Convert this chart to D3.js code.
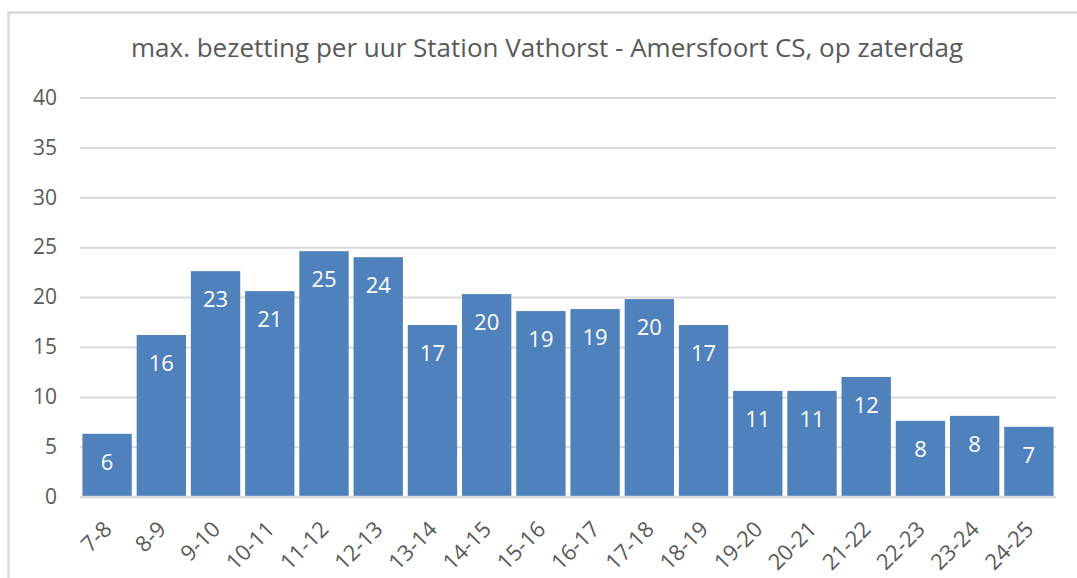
<!DOCTYPE html>
<html>
<head>
<meta charset="utf-8">
<script src="https://cdn.jsdelivr.net/npm/d3@7"></script>
<style>
  html, body { margin: 0; padding: 0; background: #fff; }
  svg { display: block; }
  text { font-family: "Open Sans", "Noto Sans", sans-serif; }
</style>
</head>
<body>
<svg id="chart" width="1077" height="578"></svg>
<script>
// Hourly peak occupancy, Saturday, Vathorst -> Amersfoort CS
const titleText = "max. bezetting per uur Station Vathorst - Amersfoort CS, op zaterdag";
const hours = ["7-8", "8-9", "9-10", "10-11", "11-12", "12-13", "13-14", "14-15", "15-16",
               "16-17", "17-18", "18-19", "19-20", "20-21", "21-22", "22-23", "23-24", "24-25"];
const occupancy = [6.3, 16.2, 22.6, 20.6, 24.6, 24.0, 17.2, 20.3, 18.6,
                   18.8, 19.8, 17.2, 10.6, 10.6, 12.0, 7.6, 8.1, 7.0];
const yTicks = [0, 5, 10, 15, 20, 25, 30, 35, 40];

const svg = d3.select("#chart");
const W = 1077, H = 578;
const plot = { left: 80, right: 1056, top: 97.5, bottom: 496.7 };

// outer chart frame (continues past the right and bottom edges)
svg.append("rect")
  .attr("x", 8.5).attr("y", 12.5)
  .attr("width", W + 20).attr("height", H + 20)
  .attr("fill", "#fff")
  .attr("stroke", "#d9d9d9").attr("stroke-width", 2.5);

const x = d3.scaleBand()
  .domain(hours)
  .range([plot.left, plot.right])
  .paddingInner(0.09)
  .paddingOuter(0.045);

const y = d3.scaleLinear()
  .domain([0, 40])
  .range([plot.bottom, plot.top]);

// horizontal gridlines + value labels
const yAxis = d3.axisLeft(y)
  .tickValues(yTicks)
  .tickSize(-(plot.right - plot.left))
  .tickPadding(23)
  .tickFormat(d3.format("d"));

const gy = svg.append("g")
  .attr("transform", `translate(${plot.left},0)`)
  .call(yAxis);
gy.select(".domain").remove();
gy.selectAll(".tick line").attr("stroke", "#d9d9d9").attr("stroke-width", 2);
gy.selectAll(".tick text")
  .attr("fill", "#595959")
  .style("font-size", "21px");

// bars
svg.append("g").selectAll("rect")
  .data(occupancy)
  .join("rect")
  .attr("x", (d, i) => x(hours[i]))
  .attr("y", d => y(d))
  .attr("width", x.bandwidth())
  .attr("height", d => y(0) - y(d))
  .attr("fill", "#4f81bd");

// baseline redrawn over the bars
svg.append("line")
  .attr("x1", plot.left).attr("x2", plot.right)
  .attr("y1", y(0)).attr("y2", y(0))
  .attr("stroke", "#d9d9d9").attr("stroke-width", 2);

// value labels inside the top of each bar
svg.append("g").selectAll("text")
  .data(occupancy)
  .join("text")
  .attr("x", (d, i) => x(hours[i]) + x.bandwidth() / 2)
  .attr("y", d => y(d) + 28)
  .attr("dy", "0.35em")
  .attr("text-anchor", "middle")
  .attr("fill", "#ffffff")
  .style("font-size", "22px")
  .text(d => Math.round(d));

// category axis labels, rotated
const xAxis = d3.axisBottom(x).tickSize(0).tickPadding(0);
const gx = svg.append("g")
  .attr("transform", `translate(0,${plot.bottom})`)
  .call(xAxis);
gx.select(".domain").remove();
gx.selectAll(".tick text")
  .attr("fill", "#595959")
  .style("font-size", "22px")
  .attr("text-anchor", "end")
  .attr("dy", null)
  .attr("y", 0)
  .attr("transform", "translate(6,34) rotate(-45)");

// title
const title = svg.append("text")
  .attr("x", 547)
  .attr("y", 57)
  .attr("text-anchor", "middle")
  .attr("fill", "#595959")
  .style("font-size", "22px")
  .text(titleText);
const tw = title.node().getComputedTextLength();
title.style("font-size", (22 * 832 / tw).toFixed(2) + "px");
</script>
</body>
</html>
